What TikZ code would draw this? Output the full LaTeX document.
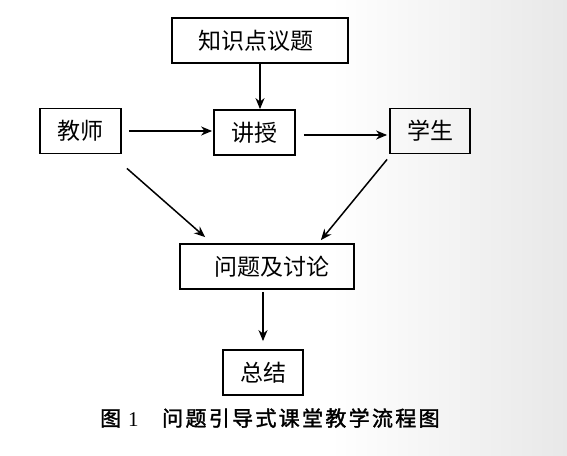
\documentclass[tikz,border=0pt]{standalone}
\usepackage{fontspec}
\setmainfont{Liberation Serif}
\newfontfamily\cjk{Noto Sans CJK SC}
\newfontfamily\capcjk[LetterSpace=11,FakeBold=1.6]{Noto Sans CJK SC}
\usetikzlibrary{arrows.meta,calc}
\tikzset{
  boxnode/.style={draw=black, line width=1.8pt, minimum height=45pt, inner sep=0pt, font=\cjk\fontsize{23}{23}\selectfont},
  arr/.style={line width=1.5pt, -{Stealth[length=11pt,width=9pt,inset=3.5pt]}},
}
\begin{document}
\begin{tikzpicture}[x=1pt,y=1pt]
\useasboundingbox (0,0) rectangle (567,455);
\fill[white] (0,0) rectangle (330,455);
\shade[left color=white, right color=black!9] (330,0) rectangle (567,455);

\node[boxnode, minimum width=176pt] (zhishi) at (260,414.5) {\hspace{-8pt}知识点议题};
\node[boxnode, minimum width=81pt] (jiaoshi) at (80.5,324) {教师};
\node[boxnode, minimum width=81pt] (jiangshou) at (254.5,322.5) {讲授};
\node[boxnode, minimum width=80pt] (xuesheng) at (430,324) {学生};
\node[boxnode, minimum width=174pt] (wenti) at (267,188.5) {\hspace{10pt}问题及讨论};
\node[boxnode, minimum width=80pt] (zongjie) at (263,82.5) {总结};

\node[font=\capcjk\fontsize{21}{21}\selectfont, anchor=west, inner sep=0pt] (cap) at (100,37)
  {\makebox[28pt][l]{图}\makebox[34pt][l]{\fontspec{Liberation Serif}1}问题引导式课堂教学流程图};

\draw[arr] (zhishi.south) -- (zhishi.south |- jiangshou.north);
\draw[arr, shorten <=7pt, shorten >=1pt] (jiaoshi.east) -- (jiaoshi.east -| jiangshou.west);
\draw[arr, shorten <=8pt, shorten >=2pt] ([yshift=-2.5pt]jiangshou.east) -- ([yshift=-2.5pt]jiangshou.east -| xuesheng.west);
\draw[arr] ($(jiaoshi.south east)+(5,-14)$) -- ($(wenti.north west)+(26,6)$);
\draw[arr] ($(xuesheng.south west)+(-2,-5)$) -- ($(wenti.north east)+(-34,3)$);
\draw[arr, shorten <=2pt, shorten >=8pt] (wenti.south -| zongjie.north) -- (zongjie.north);
\end{tikzpicture}
\end{document}
